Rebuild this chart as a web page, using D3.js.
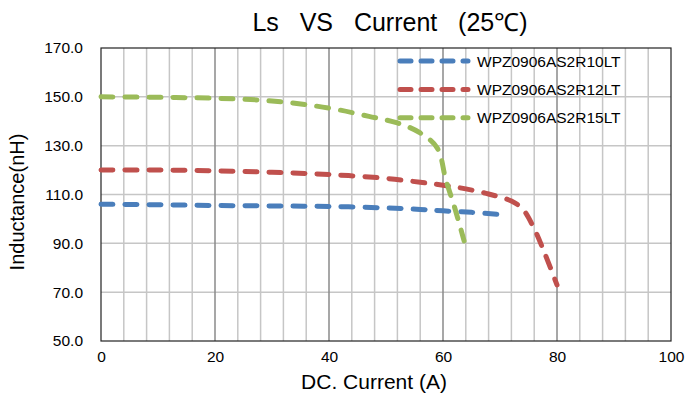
<!DOCTYPE html>
<html>
<head>
<meta charset="utf-8">
<script src="https://cdn.jsdelivr.net/npm/d3@7"></script>
<style>
  body { margin: 0; background: #fff; }
  text { font-family: "Liberation Sans", Arial, sans-serif; fill: #000; }
</style>
</head>
<body>
<svg id="chart" width="688" height="398"></svg>
<script>
// data
var seriesNames = ["WPZ0906AS2R10LT", "WPZ0906AS2R12LT", "WPZ0906AS2R15LT"];
var seriesColors = ["#4a7ebb", "#c0504d", "#9bbb59"];

var r10Current = [0, 10, 20, 30, 40, 50, 56, 60, 65, 70];
var r10Ls = [106, 105.8, 105.5, 105.3, 105.1, 104.5, 103.9, 103.3, 102.7, 101.8];

var r12Current = [0, 10, 20, 30, 40, 50, 56, 60, 64, 68, 72, 74, 76, 78, 80];
var r12Ls = [120, 120, 119.7, 119.1, 118.2, 116.6, 115, 113.8, 112.3, 110.2, 107.3, 104, 96, 85, 73];

var r15Current = [0, 10, 20, 30, 40, 47, 52, 56, 59, 60.5, 62, 63.7];
var r15Ls = [150, 149.8, 149.4, 148.3, 145.4, 142, 139.3, 135.2, 129, 116, 105, 91];

var xTicks = [0, 20, 40, 60, 80, 100];
var yTicks = [50, 70, 90, 110, 130, 150, 170];

var series = [
  {name: seriesNames[0], color: seriesColors[0], x: r10Current, y: r10Ls},
  {name: seriesNames[1], color: seriesColors[1], x: r12Current, y: r12Ls},
  {name: seriesNames[2], color: seriesColors[2], x: r15Current, y: r15Ls}
];

var svg = d3.select("#chart");
// plot box (don't use "top", it clashes with window.top)
var plot = {left: 101, right: 671, top: 48, bottom: 341};

var x = d3.scaleLinear().domain([0, 100]).range([plot.left, plot.right]);
var y = d3.scaleLinear().domain([50, 170]).range([plot.bottom, plot.top]);

// horizontal gridlines
svg.append("g").selectAll("line")
  .data(yTicks.filter(function(d) { return d > 50 && d < 170; }))
  .enter().append("line")
  .attr("x1", plot.left).attr("x2", plot.right)
  .attr("y1", function(d) { return y(d); })
  .attr("y2", function(d) { return y(d); })
  .attr("stroke", "#c6c6c6").attr("stroke-width", 1.5);

// vertical gridlines, minor every 4 and major every 20
var vGrid = d3.range(4, 100, 4);
svg.append("g").selectAll("line")
  .data(vGrid)
  .enter().append("line")
  .attr("x1", function(d) { return x(d); })
  .attr("x2", function(d) { return x(d); })
  .attr("y1", plot.top).attr("y2", plot.bottom)
  .attr("stroke", function(d) { return d % 20 == 0 ? "#8a8a8a" : "#c6c6c6"; })
  .attr("stroke-width", 1.5);

// plot frame
svg.append("rect")
  .attr("x", plot.left).attr("y", plot.top)
  .attr("width", plot.right - plot.left).attr("height", plot.bottom - plot.top)
  .attr("fill", "none").attr("stroke", "#222").attr("stroke-width", 1.2);

// axes
var xAxis = svg.append("g")
  .attr("transform", "translate(0," + plot.bottom + ")")
  .call(d3.axisBottom(x).tickValues(xTicks).tickSize(0).tickPadding(10));
xAxis.select(".domain").remove();
xAxis.selectAll("text").attr("font-size", "15.5px")
  .attr("font-family", "'Liberation Sans', Arial, sans-serif");

var yAxis = svg.append("g")
  .attr("transform", "translate(" + plot.left + ",0)")
  .call(d3.axisLeft(y).tickValues(yTicks).tickSize(0).tickPadding(18).tickFormat(d3.format(".1f")));
yAxis.select(".domain").remove();
yAxis.selectAll("text").attr("font-size", "15.5px")
  .attr("font-family", "'Liberation Sans', Arial, sans-serif");

// curves
var line = d3.line()
  .x(function(d) { return x(d[0]); })
  .y(function(d) { return y(d[1]); })
  .curve(d3.curveCatmullRom.alpha(0.5));

svg.append("g").selectAll("path")
  .data(series)
  .enter().append("path")
  .attr("d", function(s) { return line(d3.zip(s.x, s.y)); })
  .attr("fill", "none")
  .attr("stroke", function(s) { return s.color; })
  .attr("stroke-width", 5)
  .attr("stroke-linecap", "round")
  .attr("stroke-dasharray", "12,12");

// legend
var legend = svg.append("g").selectAll("g")
  .data(series)
  .enter().append("g")
  .attr("transform", function(d, i) { return "translate(400," + (61 + i * 28.4) + ")"; });

legend.append("line")
  .attr("x1", 0).attr("x2", 68)
  .attr("stroke", function(d) { return d.color; })
  .attr("stroke-width", 5)
  .attr("stroke-linecap", "round")
  .attr("stroke-dasharray", "11,10");

legend.append("text")
  .attr("x", 77).attr("y", 5.5)
  .attr("font-size", "15.5px")
  .text(function(d) { return d.name; });

// titles
svg.append("text")
  .attr("x", 390).attr("y", 30.5)
  .attr("text-anchor", "middle")
  .attr("font-size", "25px")
  .attr("xml:space", "preserve")
  .text("Ls   VS   Current   (25\u2103)");

svg.append("text")
  .attr("x", 374).attr("y", 389)
  .attr("text-anchor", "middle")
  .attr("font-size", "21px")
  .text("DC. Current (A)");

svg.append("text")
  .attr("transform", "translate(24,202) rotate(-90)")
  .attr("text-anchor", "middle")
  .attr("font-size", "20px")
  .text("Inductance(nH)");
</script>
</body>
</html>
